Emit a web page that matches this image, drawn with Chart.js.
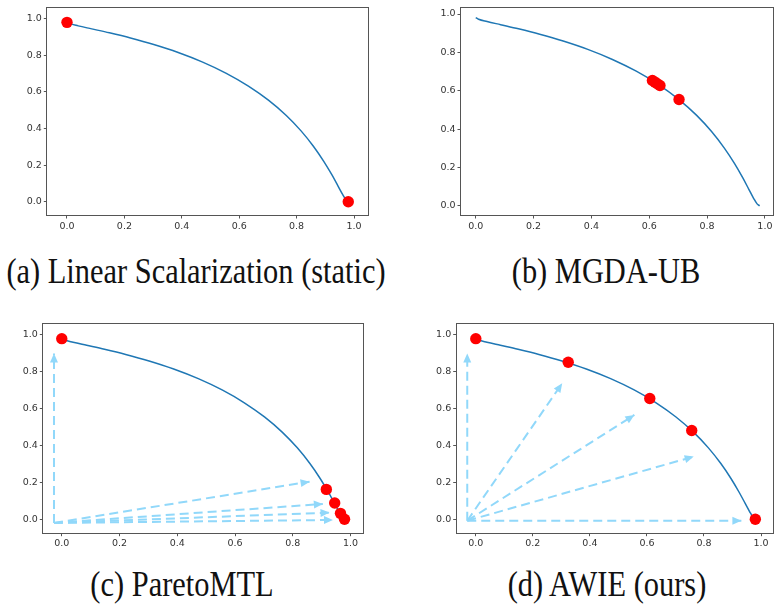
<!DOCTYPE html>
<html><head><meta charset="utf-8">
<script src="https://cdn.jsdelivr.net/npm/chart.js@4.4.1/dist/chart.umd.min.js"></script>
<style>
html,body{margin:0;padding:0;background:#fff;}
body{width:779px;height:606px;position:relative;overflow:hidden;}
canvas{position:absolute;}
.cap{position:absolute;width:600px;text-align:center;font-family:"Liberation Serif","Times New Roman",serif;font-size:36px;line-height:36px;color:#111;transform:scaleX(0.845);transform-origin:50% 50%;white-space:nowrap;}
</style></head><body>
<canvas id="ca"></canvas><canvas id="cb"></canvas><canvas id="cc"></canvas><canvas id="cd"></canvas>
<div class="cap" id="capA"></div><div class="cap" id="capB"></div><div class="cap" id="capC"></div><div class="cap" id="capD"></div>
<script>
// ---- data ----
const tickVals = [0.0, 0.2, 0.4, 0.6, 0.8, 1.0];
const frontF1 = [0.0000,0.0100,0.0392,0.0861,0.1479,0.2212,0.3023,0.3874,0.4727,0.5551,0.6321,0.7018,0.7631,0.8155,0.8591,0.8946,0.9227,0.9444,0.9608,0.9729,0.9817];
const frontF2 = [0.9817,0.9729,0.9608,0.9444,0.9227,0.8946,0.8591,0.8155,0.7631,0.7018,0.6321,0.5551,0.4727,0.3874,0.3023,0.2212,0.1479,0.0861,0.0392,0.0100,0.0000];

const lsX = [0.0, 0.98];
const lsY = [0.98, 0.0];

const mgdaX = [0.611, 0.620, 0.628, 0.637, 0.703];
const mgdaY = [0.653, 0.645, 0.636, 0.627, 0.554];

const pmtlX = [0.0, 0.916, 0.945, 0.965, 0.979];
const pmtlY = [0.98, 0.162, 0.088, 0.032, 0.0];
const pmtlArrowOrigin = [-0.027, -0.02];
const pmtlArrowTipX = [-0.027, 0.858, 0.904, 0.927, 0.939];
const pmtlArrowTipY = [0.90, 0.204, 0.083, 0.036, -0.004];

const awieX = [0.0, 0.324, 0.61, 0.757, 0.98];
const awieY = [0.98, 0.852, 0.655, 0.482, 0.0];
const awieArrowOrigin = [-0.03, -0.008];
const awieArrowTipX = [-0.03, 0.303, 0.556, 0.764, 0.931];
const awieArrowTipY = [0.90, 0.738, 0.566, 0.34, -0.008];

const captions = ["(a) Linear Scalarization (static)", "(b) MGDA-UB", "(c) ParetoMTL", "(d) AWIE (ours)"];

// ---- styling / layout ----
const CURVE = '#1f77b4', DOT = '#ff0000', ARROW = 'rgb(145,216,250)', AX = '#555', TXT = '#333';

const arrowHeads = {
  id: 'arrowHeads',
  afterDatasetDraw(chart, args) {
    const ds = chart.data.datasets[args.index];
    if (!ds.isArrow) return;
    const pts = args.meta.data;
    const a = pts[0], b = pts[pts.length - 1];
    const ang = Math.atan2(b.y - a.y, b.x - a.x);
    const L = 9, W = 4;
    const ctx = chart.ctx;
    ctx.save();
    ctx.fillStyle = ds.borderColor;
    ctx.beginPath();
    ctx.moveTo(b.x, b.y);
    ctx.lineTo(b.x - L * Math.cos(ang) + W * Math.sin(ang), b.y - L * Math.sin(ang) - W * Math.cos(ang));
    ctx.lineTo(b.x - L * Math.cos(ang) - W * Math.sin(ang), b.y - L * Math.sin(ang) + W * Math.cos(ang));
    ctx.closePath();
    ctx.fill();
    ctx.restore();
  }
};
const frameBox = {
  id: 'frameBox',
  afterDraw(chart) {
    const { left, top, right, bottom } = chart.chartArea;
    const ctx = chart.ctx;
    ctx.save();
    ctx.strokeStyle = AX;
    ctx.lineWidth = 1;
    ctx.strokeRect(Math.round(left) - 0.5, Math.round(top) - 0.5, Math.round(right) - Math.round(left) + 1, Math.round(bottom) - Math.round(top) + 1);
    ctx.restore();
  }
};

function zip(xs, ys) { return xs.map((x, i) => ({ x: x, y: ys[i] })); }

function curveDs() {
  return { data: zip(frontF1, frontF2), showLine: true, borderColor: CURVE, borderWidth: 1.5,
    pointRadius: 0, cubicInterpolationMode: 'monotone', order: 1 };
}
function dotDs(xs, ys) {
  return { data: zip(xs, ys), showLine: false, backgroundColor: DOT, borderColor: DOT, borderWidth: 0,
    pointRadius: 5.7, order: 0 };
}
function arrowDs(origin, tx, ty) {
  return tx.map((x, i) => ({ data: [{ x: origin[0], y: origin[1] }, { x: x, y: ty[i] }], showLine: true,
    isArrow: true, borderColor: ARROW, borderWidth: 2, borderDash: [9, 5], pointRadius: 0, order: 2 }));
}

function axis(min, max, fitFn) {
  return {
    type: 'linear', min: min, max: max,
    afterFit: fitFn,
    afterBuildTicks(s) { s.ticks = tickVals.map(v => ({ value: v })); },
    ticks: { callback: v => Number(v).toFixed(1), font: { family: 'DejaVu Sans', size: 9.5 }, color: TXT,
      padding: 2, maxRotation: 0, autoSkip: false },
    grid: { display: true, drawOnChartArea: false, drawTicks: true, tickLength: 3.5, tickColor: AX, color: AX, tickWidth: 1 },
    border: { display: false }
  };
}

function makePanel(p, datasets) {
  const cv = document.getElementById(p.id);
  cv.width = p.cw; cv.height = p.ch;
  cv.style.left = p.cl + 'px'; cv.style.top = p.ct + 'px';
  cv.style.width = p.cw + 'px'; cv.style.height = p.ch + 'px';
  new Chart(cv, {
    type: 'scatter',
    data: { datasets: datasets },
    options: {
      responsive: false, animation: false, devicePixelRatio: 1, events: [],
      layout: { padding: { left: 0, top: p.pt - p.ct, right: p.cl + p.cw - p.pr, bottom: 0 } },
      plugins: { legend: { display: false }, tooltip: { enabled: false } },
      scales: {
        x: axis(p.x[0], p.x[1], s => { s.height = p.ct + p.ch - p.pb; }),
        y: axis(p.y[0], p.y[1], s => { s.width = p.pl - p.cl; })
      }
    },
    plugins: [arrowHeads, frameBox]
  });
}

const panels = [
  { id: 'ca', cl: 0, ct: 0, cw: 392, ch: 245, pl: 47.3, pt: 6.3, pr: 368.3, pb: 215, x: [-0.0686, 1.0498], y: [-0.072, 1.06] },
  { id: 'cb', cl: 400, ct: 0, cw: 379, ch: 245, pl: 461, pt: 6.7, pr: 778.5, pb: 215, x: [-0.051, 1.029], y: [-0.048, 1.033] },
  { id: 'cc', cl: 0, ct: 300, cw: 392, ch: 262, pl: 43.3, pt: 324.3, pr: 363.3, pb: 532.7, x: [-0.064, 1.044], y: [-0.073, 1.058] },
  { id: 'cd', cl: 400, ct: 300, cw: 379, ch: 262, pl: 456.7, pt: 324.3, pr: 776.7, pb: 532.7, x: [-0.067, 1.043], y: [-0.073, 1.058] }
];

makePanel(panels[0], [dotDs(lsX, lsY), curveDs()]);
makePanel(panels[1], [dotDs(mgdaX, mgdaY), curveDs()]);
makePanel(panels[2], [dotDs(pmtlX, pmtlY), curveDs()].concat(arrowDs(pmtlArrowOrigin, pmtlArrowTipX, pmtlArrowTipY)));
makePanel(panels[3], [dotDs(awieX, awieY), curveDs()].concat(arrowDs(awieArrowOrigin, awieArrowTipX, awieArrowTipY)));

const capPos = [[196, 252.9], [606, 252.9], [182, 565.9], [607, 565.9]];
['capA', 'capB', 'capC', 'capD'].forEach((id, i) => {
  const el = document.getElementById(id);
  el.textContent = captions[i];
  el.style.left = (capPos[i][0] - 300) + 'px';
  el.style.top = capPos[i][1] + 'px';
});
</script>
</body></html>
